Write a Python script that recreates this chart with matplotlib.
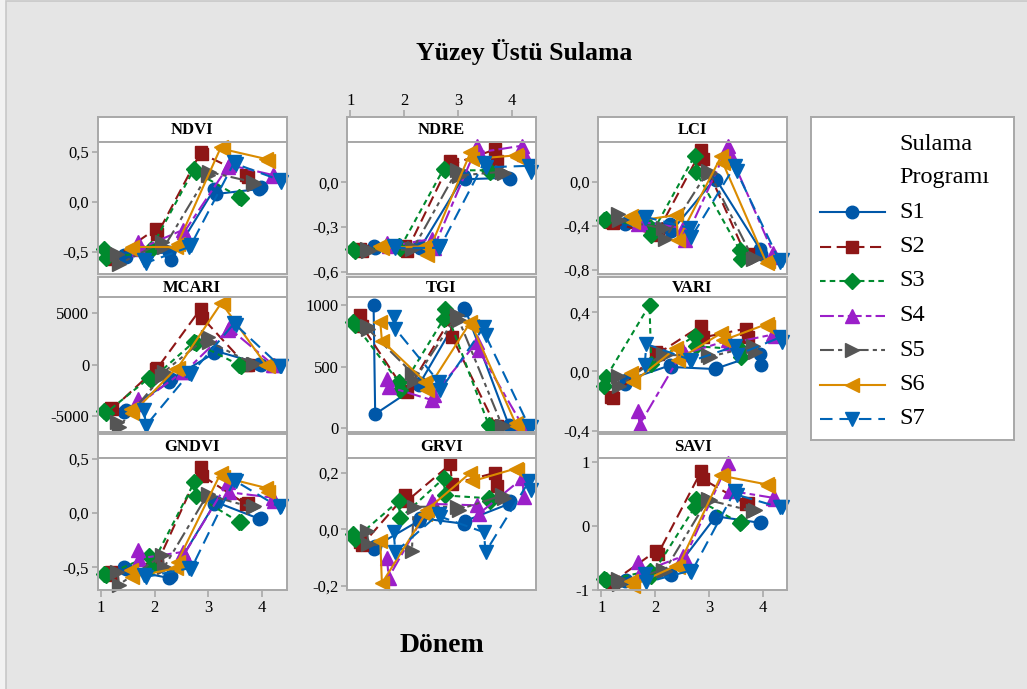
import matplotlib
matplotlib.use('Agg')
import matplotlib.pyplot as plt
from matplotlib.ticker import FuncFormatter
from matplotlib.patches import Rectangle

plt.rcParams['font.family'] = ['Liberation Serif', 'DejaVu Serif']
plt.rcParams['lines.scale_dashes'] = False

# ---------------- data ----------------
SERIES = ['S1', 'S2', 'S3', 'S4', 'S5', 'S6', 'S7']
PERIODS = [1, 2, 3, 4]
INDICES = ['NDVI', 'NDRE', 'LCI', 'MCARI', 'TGI', 'VARI', 'GNDVI', 'GRVI', 'SAVI']
X_TICKS = [1, 2, 3, 4]
# each series: two replicate values per period (p1r1, p1r2, p2r1, ...)
NDVI = [
    [-0.53, -0.55, -0.50, -0.58, 0.13, 0.08, 0.13, 0.15],
    [-0.55, -0.57, -0.27, -0.32, 0.50, 0.48, 0.27, 0.25],
    [-0.47, -0.56, -0.50, -0.47, 0.33, 0.30, 0.05, 0.04],
    [-0.40, -0.47, -0.28, -0.30, 0.35, 0.37, 0.27, 0.26],
    [-0.52, -0.62, -0.40, -0.45, 0.27, 0.30, 0.20, 0.18],
    [-0.47, -0.45, -0.45, -0.42, 0.55, 0.53, 0.43, 0.41],
    [-0.58, -0.61, -0.45, -0.43, 0.40, 0.38, 0.22, 0.20],
]
NDRE = [
    [-0.43, -0.44, -0.43, -0.44, 0.04, 0.02, 0.03, 0.02],
    [-0.45, -0.46, -0.43, -0.46, 0.14, 0.12, 0.22, 0.145],
    [-0.45, -0.46, -0.43, -0.44, 0.09, 0.08, 0.08, 0.07],
    [-0.41, -0.43, -0.38, -0.44, 0.245, 0.20, 0.245, 0.19],
    [-0.45, -0.46, -0.45, -0.44, 0.08, 0.045, 0.07, 0.06],
    [-0.43, -0.44, -0.43, -0.49, 0.20, 0.155, 0.18, 0.17],
    [-0.43, -0.44, -0.44, -0.43, 0.13, 0.10, 0.11, 0.07],
]
LCI = [
    [-0.38, -0.37, -0.38, -0.45, 0.03, 0.02, -0.61, -0.66],
    [-0.36, -0.37, -0.48, -0.45, 0.29, 0.21, -0.68, -0.66],
    [-0.35, -0.34, -0.41, -0.48, 0.24, 0.09, -0.62, -0.70],
    [-0.38, -0.36, -0.42, -0.53, 0.33, 0.26, -0.65, -0.68],
    [-0.29, -0.35, -0.42, -0.52, 0.10, 0.08, -0.70, -0.69],
    [-0.31, -0.36, -0.30, -0.53, 0.24, 0.17, -0.74, -0.72],
    [-0.33, -0.32, -0.42, -0.50, 0.15, 0.10, -0.73, -0.71],
]
MCARI = [
    [-4600, -4400, -1700, -1400, 1100, 1300, 100, 0],
    [-4200, -4300, -400, -350, 5400, 4500, -50, 0],
    [-4500, -4700, -1300, -1500, 2200, 2100, -50, -100],
    [-3300, -3800, -700, -750, 3300, 3500, 0, -50],
    [-5550, -6000, -1100, -700, 2700, 2200, 100, 50],
    [-4300, -4700, -400, -350, 5900, 5800, -50, -100],
    [-4400, -5900, -850, -900, 4000, 3800, -100, -150],
]
TGI = [
    [1000, 115, 350, 370, 975, 960, 25, 20],
    [915, 830, 300, 296, 885, 740, 20, 15],
    [860, 840, 376, 310, 885, 965, 25, 20],
    [400, 336, 228, 270, 700, 632, 25, 20],
    [830, 800, 450, 380, 915, 880, 20, 15],
    [860, 710, 376, 310, 860, 830, 40, 15],
    [900, 806, 376, 309, 820, 753, 15, 10],
]
VARI = [
    [-0.086, -0.06, 0.04, 0.03, 0.016, 0.02, 0.12, 0.04],
    [-0.17, -0.18, 0.13, 0.12, 0.31, 0.23, 0.29, 0.23],
    [-0.10, -0.04, 0.45, 0.05, 0.24, 0.17, 0.15, 0.10],
    [-0.27, -0.36, 0.14, 0.12, 0.21, 0.19, 0.25, 0.24],
    [-0.03, -0.10, 0.12, 0.11, 0.11, 0.10, 0.17, 0.13],
    [-0.01, -0.075, 0.16, 0.08, 0.26, 0.21, 0.32, 0.30],
    [0.04, 0.185, 0.08, 0.07, 0.17, 0.11, 0.23, 0.20],
]
GNDVI = [
    [-0.50, -0.52, -0.60, -0.58, 0.08, 0.10, -0.055, -0.05],
    [-0.54, -0.57, -0.44, -0.46, 0.42, 0.34, 0.08, 0.09],
    [-0.56, -0.57, -0.40, -0.50, 0.28, 0.16, -0.085, -0.08],
    [-0.34, -0.42, -0.36, -0.38, 0.28, 0.19, 0.14, 0.11],
    [-0.54, -0.66, -0.39, -0.50, 0.17, 0.16, 0.05, 0.06],
    [-0.53, -0.59, -0.51, -0.45, 0.37, 0.33, 0.23, 0.19],
    [-0.57, -0.59, -0.51, -0.52, 0.30, 0.29, 0.05, 0.06],
]
GRVI = [
    [-0.068, -0.06, 0.03, 0.04, 0.02, 0.03, 0.09, 0.10],
    [-0.045, -0.056, 0.12, 0.10, 0.23, 0.16, 0.20, 0.155],
    [-0.015, -0.033, 0.10, 0.04, 0.18, 0.12, 0.11, 0.10],
    [-0.10, -0.17, 0.10, 0.09, 0.085, 0.055, 0.18, 0.115],
    [-0.004, -0.05, -0.075, 0.08, 0.08, 0.07, 0.12, 0.11],
    [-0.04, -0.19, 0.055, 0.07, 0.20, 0.17, 0.215, 0.21],
    [-0.01, -0.08, 0.055, 0.045, -0.01, -0.08, 0.17, 0.14],
]
SAVI = [
    [-0.86, -0.84, -0.75, -0.76, 0.13, 0.15, 0.05, 0.06],
    [-0.86, -0.87, -0.39, -0.44, 0.86, 0.73, 0.34, 0.36],
    [-0.83, -0.85, -0.70, -0.78, 0.29, 0.42, 0.05, 0.06],
    [-0.57, -0.73, -0.47, -0.50, 0.99, 0.55, 0.44, 0.42],
    [-0.83, -0.90, -0.68, -0.70, 0.42, 0.40, 0.23, 0.25],
    [-0.86, -0.93, -0.62, -0.64, 0.80, 0.78, 0.65, 0.63],
    [-0.75, -0.88, -0.70, -0.72, 0.55, 0.49, 0.29, 0.30],
]
DATA = [NDVI, NDRE, LCI, MCARI, TGI, VARI, GNDVI, GRVI, SAVI]
Y_TICKS = [[-0.5, 0.0, 0.5], [-0.6, -0.3, 0.0], [-0.8, -0.4, 0.0],
           [-5000, 0, 5000], [0, 500, 1000], [-0.4, 0.0, 0.4],
           [-0.5, 0.0, 0.5], [-0.2, 0.0, 0.2], [-1, 0, 1]]
Y_DECIMALS = [1, 1, 1, 0, 0, 1, 1, 1, 0]
Y_LIMS = [(-0.72, 0.605), (-0.615, 0.273), (-0.838, 0.37),
          (-6510, 6470), (-30, 1059), (-0.41, 0.50),
          (-0.71, 0.51), (-0.214, 0.254), (-1.0, 1.07)]

# ---------------- style ----------------
COLORS = ['#0057A8', '#8E1616', '#008A2E', '#9B1FC9', '#555555', '#DA8B00', '#0064B6']
MARKERS = ['o', 's', 'D', '^', '>', '<', 'v']
MSIZES = [9, 9, 8.5, 10, 10, 10, 10]
LSTYLES = ['-', (0, (8, 4)), (0, (4, 3)), (0, (10, 3, 4, 3)),
           (0, (10, 3, 3, 3, 3, 3)), '-', (0, (9, 5))]
DODGE_ORDER = [3, 1, 0, 5, 2, 4, 6]   # position of each series inside a period group
GROUP_START, GROUP_STEP, SERIES_STEP, REP_STEP = 1.07, 0.84, 0.125, 0.03
GRAY = '#A8A8A8'
XLIM = (0.935, 4.455)

W, H = 1027, 689
fig = plt.figure(figsize=(W / 100, H / 100), dpi=100, facecolor='#F2F2F2')
fig.patches.append(Rectangle((6 / W, -0.01), 1.02, 1 - 1 / H + 0.01, transform=fig.transFigure,
                             facecolor='#E5E5E5', edgecolor='#C8C8C8', lw=1.2, zorder=-5))


def rect(l, t, w, h):
    return [l / W, 1 - (t + h) / H, w / W, h / H]


def make_fmt(dec):
    def f(v, pos=None):
        if dec == 0:
            return '%d' % round(v)
        return ('%.*f' % (dec, v)).replace('.', ',')
    return FuncFormatter(f)


COL_L = [97.5, 347, 598]
COL_W = 189
ROWS = [(117, 24.5, 132.5), (276.5, 21, 134.5), (434, 23.5, 132.5)]

for i, name in enumerate(INDICES):
    r, c = divmod(i, 3)
    st, sh, ph = ROWS[r]
    sax = fig.add_axes(rect(COL_L[c], st, COL_W, sh))
    ax = fig.add_axes(rect(COL_L[c], st + sh, COL_W, ph))
    for a in (sax, ax):
        a.set_facecolor('white')
        for sp in a.spines.values():
            sp.set_color(GRAY)
            sp.set_linewidth(1.4)
        a.set_xlim(*XLIM)
    sax.set_yticks([])
    sax.set_xticks([])
    sax.text(0.5, 0.45, name, transform=sax.transAxes, ha='center', va='center',
             fontsize=12, fontweight='bold')

    vals = DATA[i]
    for s in range(len(SERIES)):
        xs, ys = [], []
        for pi, p in enumerate(PERIODS):
            base = GROUP_START + GROUP_STEP * (p - 1) + SERIES_STEP * DODGE_ORDER[s]
            for rep in range(2):
                xs.append(base + (rep - 0.5) * REP_STEP)
                ys.append(vals[s][2 * pi + rep])
        ax.plot(xs, ys, color=COLORS[s], ls=LSTYLES[s], lw=1.5, marker=MARKERS[s],
                ms=MSIZES[s], mfc=COLORS[s], mec=COLORS[s], clip_on=False)

    ax.set_ylim(*Y_LIMS[i])
    ax.set_yticks(Y_TICKS[i])
    ax.yaxis.set_major_formatter(make_fmt(Y_DECIMALS[i]))
    ax.tick_params(axis='y', direction='out', length=4, width=1.2, color=GRAY,
                   labelsize=12, pad=2)
    if r == 2 and c in (0, 2):
        ax.set_xticks(X_TICKS)
        ax.set_xticklabels([str(t) for t in X_TICKS])
        ax.tick_params(axis='x', direction='out', length=5, width=1.2, color=GRAY,
                       labelsize=12, pad=2)
    else:
        ax.set_xticks([])
    if r == 0 and c == 1:
        sax.set_xticks(X_TICKS)
        sax.set_xticklabels([str(t) for t in X_TICKS])
        sax.tick_params(axis='x', top=True, bottom=False, labeltop=True, labelbottom=False,
                        direction='out', length=5, width=1.2, color=GRAY,
                        labelsize=12, pad=1)

fig.text(524 / W, 1 - 52 / H, 'Yüzey Üstü Sulama', ha='center', va='center',
         fontsize=18.5, fontweight='bold')
fig.text(442 / W, 1 - 645 / H, 'Dönem', ha='center', va='center',
         fontsize=20, fontweight='bold')

# legend
lax = fig.add_axes(rect(811, 117, 203, 323))
lax.set_facecolor('white')
for sp in lax.spines.values():
    sp.set_color(GRAY)
    sp.set_linewidth(1.4)
lax.set_xlim(0, 203)
lax.set_ylim(323, 0)
lax.set_xticks([])
lax.set_yticks([])
lax.text(88, 28, 'Sulama', fontsize=17.5, va='center', ha='left')
lax.text(88, 60, 'Programı', fontsize=17.5, va='center', ha='left')
for s, lab in enumerate(SERIES):
    y = 95 + 34.5 * s
    lax.plot([9, 41, 74], [y, y, y], color=COLORS[s], ls=LSTYLES[s], lw=1.5,
             marker=MARKERS[s], ms=MSIZES[s], markevery=[1], mfc=COLORS[s], mec=COLORS[s])
    lax.text(88, y, lab, fontsize=17.5, va='center', ha='left')

fig.savefig('out.png', dpi=100, facecolor=fig.get_facecolor())
